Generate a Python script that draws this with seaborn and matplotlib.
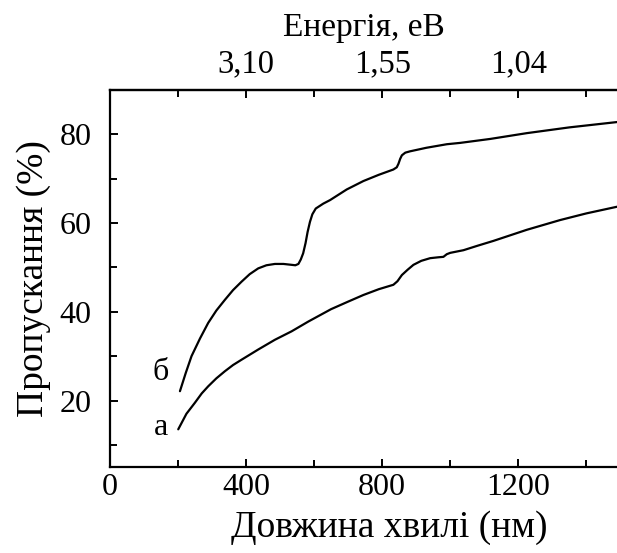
import numpy as np
import pandas as pd
import matplotlib
matplotlib.use("Agg")
import matplotlib.pyplot as plt
import seaborn as sns

# wavelength (nm) / transmission (%)
# curve "б"
wl_b = [206, 223, 240, 265, 289, 313, 338, 362, 387, 411, 436, 460, 485, 510, 534, 545,
        554, 561, 568, 575, 581, 588, 595, 605, 627, 647, 696, 745, 790, 833, 843, 848,
        853, 858, 868, 882, 930, 990, 1029, 1118, 1225, 1350, 1490]
tr_b = [22.1, 26.2, 30.0, 34.0, 37.5, 40.3, 42.7, 44.9, 46.8, 48.5, 49.8, 50.5, 50.8, 50.8, 50.6, 50.5,
        50.8, 51.8, 53.2, 55.5, 58.0, 60.3, 62.0, 63.3, 64.4, 65.2, 67.6, 69.5, 70.9, 72.1, 72.6, 73.4,
        74.5, 75.3, 75.9, 76.2, 77.0, 77.8, 78.1, 79.0, 80.3, 81.6, 82.8]

# curve "а"
wl_a = [201, 225, 250, 270, 289, 313, 338, 362, 387, 436, 485, 534, 583, 650, 700, 745,
        790, 833, 845, 858, 875, 892, 915, 941, 965, 980, 990, 1000, 1039, 1080, 1127, 1225,
        1323, 1400, 1490]
tr_a = [13.5, 17.0, 19.5, 21.6, 23.2, 25.0, 26.6, 28.0, 29.2, 31.5, 33.7, 35.6, 37.8, 40.6, 42.3, 43.8,
        45.1, 46.1, 46.9, 48.3, 49.5, 50.6, 51.5, 52.1, 52.3, 52.4, 53.0, 53.3, 53.9, 54.9, 56.0, 58.5,
        60.7, 62.2, 63.7]

bottom_ticks = [0, 400, 800, 1200]
top_tick_pos = [400, 800, 1200]
top_tick_labels = ["3,10", "1,55", "1,04"]
y_ticks = [20, 40, 60, 80]

sns.set_theme(style="ticks")
plt.rcParams["font.family"] = ["Liberation Serif", "DejaVu Serif"]
plt.rcParams["text.color"] = "black"
plt.rcParams["axes.labelcolor"] = "black"
plt.rcParams["xtick.color"] = "black"
plt.rcParams["ytick.color"] = "black"

fig = plt.figure(figsize=(6.17, 5.53), dpi=100)
ax = fig.add_axes([0.178, 0.1555, 0.822, 0.6815])

sns.lineplot(x=wl_b, y=tr_b, color="black", linewidth=1.6, ax=ax, sort=False)
sns.lineplot(x=wl_a, y=tr_a, color="black", linewidth=1.6, ax=ax, sort=False)

ax.text(150, 26.3, "б", fontsize=23, ha="center", va="center")
ax.text(150, 14.0, "а", fontsize=23, ha="center", va="center")

ax.set_xlim(0, 1490)
ax.set_ylim(5, 90)
ax.set_xticks(bottom_ticks)
ax.set_xticks([200, 600, 1000, 1400], minor=True)
ax.set_yticks(y_ticks)
ax.set_yticks([10, 30, 50, 70], minor=True)
ax.tick_params(axis="both", which="major", direction="in", length=6, width=1.4,
               labelsize=23, colors="black")
ax.tick_params(axis="both", which="minor", direction="in", length=5, width=1.4)
ax.tick_params(axis="y", which="major", pad=13)
ax.tick_params(axis="x", which="major", pad=4)

for side in ["left", "bottom", "top"]:
    ax.spines[side].set_linewidth(1.6)
    ax.spines[side].set_color("black")
ax.spines["right"].set_visible(False)

ax.set_xlabel("Довжина хвилі (нм)", fontsize=27, labelpad=9)
ax.xaxis.set_label_coords(0.55, -0.115, transform=ax.transAxes)
ax.xaxis.label.set_va("top")
ax.set_ylabel("Пропускання (%)", fontsize=27, labelpad=6)

top = ax.secondary_xaxis("top")
top.set_xticks(top_tick_pos)
top.set_xticklabels(top_tick_labels)
top.set_xticks([200, 600, 1000, 1400], minor=True)
top.tick_params(which="major", direction="in", length=6, width=1.4, labelsize=23.5,
                pad=8, colors="black")
top.tick_params(which="minor", direction="in", length=5, width=1.4)
top.spines["top"].set_linewidth(1.6)
top.set_xlabel("Енергія, eВ", fontsize=24, labelpad=9)

fig.savefig("out.png", dpi=100)
